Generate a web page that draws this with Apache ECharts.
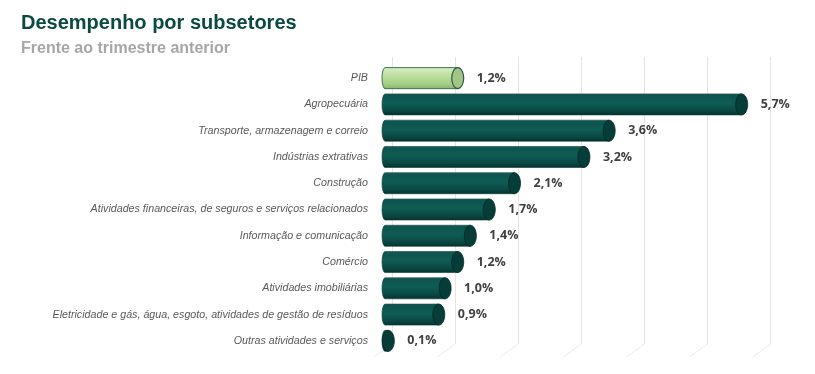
<!DOCTYPE html>
<html>
<head>
<meta charset="utf-8">
<script src="https://cdn.jsdelivr.net/npm/echarts@6/dist/echarts.min.js"></script>
<style>
html,body{margin:0;padding:0;background:#fff;}
#chart{width:815px;height:374px;}
</style>
</head>
<body>
<div id="chart"></div>
<script>
var categories = [
  'PIB',
  'Agropecuária',
  'Transporte, armazenagem e correio',
  'Indústrias extrativas',
  'Construção',
  'Atividades financeiras, de seguros e serviços relacionados',
  'Informação e comunicação',
  'Comércio',
  'Atividades imobiliárias',
  'Eletricidade e gás, água, esgoto, atividades de gestão de resíduos',
  'Outras atividades e serviços'
];
var values = [1.2, 5.7, 3.6, 3.2, 2.1, 1.7, 1.4, 1.2, 1.0, 0.9, 0.1];
var highlightIndex = 0;
var gridTicks = [0, 1, 2, 3, 4, 5, 6];

function fmt(v) { return v.toFixed(1).replace('.', ',') + '%'; }

var darkBody = new echarts.graphic.LinearGradient(0, 0, 0, 1, [
  {offset: 0, color: '#2a6e66'},
  {offset: 0.08, color: '#0d544d'},
  {offset: 0.45, color: '#0f5c55'},
  {offset: 0.8, color: '#0a4742'},
  {offset: 1, color: '#04302c'}
]);
var lightBody = new echarts.graphic.LinearGradient(0, 0, 0, 1, [
  {offset: 0, color: '#d8efc4'},
  {offset: 0.35, color: '#bfe2a3'},
  {offset: 0.8, color: '#a2cb82'},
  {offset: 1, color: '#86b068'}
]);

function renderBar(params, api) {
  var v = api.value(0), c = api.value(1);
  var p0 = api.coord([0, c]);
  var p1 = api.coord([v, c]);
  var h = api.size([0, 1])[1] * 0.8;
  var cy = p0[1], top = cy - h / 2;
  var rx = 6, lr = 3;
  var x0 = p0[0], x1 = p1[0];
  var light = (c === highlightIndex);
  var path = 'M' + (x0 + lr) + ' ' + top + ' L' + x1 + ' ' + top + ' L' + x1 + ' ' + (top + h) +
    ' L' + (x0 + lr) + ' ' + (top + h) + ' A' + lr + ' ' + (h / 2) + ' 0 0 1 ' + (x0 + lr) + ' ' + top + ' Z';
  return {
    type: 'group',
    children: [
      {
        type: 'path',
        shape: {pathData: path},
        style: {
          fill: light ? lightBody : darkBody,
          stroke: light ? '#3f7450' : '#063a35',
          lineWidth: light ? 1 : 0.6
        }
      },
      {
        type: 'ellipse',
        shape: {cx: x1, cy: cy, rx: rx, ry: h / 2},
        style: {
          fill: light ? '#a4c487' : '#073d38',
          stroke: light ? '#2c5f45' : '#032925',
          lineWidth: light ? 1.2 : 0.8
        }
      },
      {
        type: 'text',
        x: x1 + rx + 13,
        y: cy,
        style: {
          text: fmt(v),
          fill: '#404040',
          font: 'bold 12.5px "Open Sans", sans-serif',
          align: 'left',
          verticalAlign: 'middle'
        }
      }
    ]
  };
}

function renderFloor(params, api) {
  var t = api.value(0);
  var p = api.coord([t, 0]);
  return {
    type: 'line',
    shape: {x1: p[0], y1: p[1], x2: p[0] - 18, y2: p[1] + 13},
    style: {stroke: '#ebebeb', lineWidth: 1}
  };
}

var chart = echarts.init(document.getElementById('chart'));
chart.setOption({
  animation: false,
  backgroundColor: '#ffffff',
  title: {
    text: 'Desempenho por subsetores',
    subtext: 'Frente ao trimestre anterior',
    left: 16,
    top: 8,
    itemGap: 8,
    textStyle: {fontFamily: 'Liberation Sans', fontWeight: 'bold', fontSize: 20, color: '#0b4a42'},
    subtextStyle: {fontFamily: 'Liberation Sans', fontWeight: 'bold', fontSize: 16, color: '#a6a6a6'}
  },
  grid: [
    {left: 382, right: 54.4, top: 65, bottom: 20, containLabel: false},
    {left: 392, right: 44.4, top: 57, bottom: 30, containLabel: false}
  ],
  xAxis: [
    {type: 'value', gridIndex: 0, min: 0, max: 6, interval: 1, show: false},
    {type: 'value', gridIndex: 1, min: 0, max: 6, interval: 1,
      axisLine: {show: false}, axisTick: {show: false}, axisLabel: {show: false},
      splitLine: {show: true, lineStyle: {color: '#e4e4e4', width: 1}}}
  ],
  yAxis: [
    {type: 'category', gridIndex: 0, data: categories, inverse: true,
      axisLine: {show: false}, axisTick: {show: false}, splitLine: {show: false},
      axisLabel: {margin: 14, fontFamily: 'Liberation Sans', fontStyle: 'italic', fontSize: 10.7, color: '#595959'}},
    {type: 'value', gridIndex: 1, min: 0, max: 1, show: false, splitLine: {show: false}}
  ],
  series: [
    {
      type: 'custom', xAxisIndex: 1, yAxisIndex: 1, z: 1,
      renderItem: renderFloor,
      data: gridTicks.map(function (t) { return [t]; }),
      silent: true
    },
    {
      type: 'custom', xAxisIndex: 0, yAxisIndex: 0, z: 5,
      renderItem: renderBar,
      encode: {x: 0, y: 1},
      data: values.map(function (v, i) { return [v, i]; })
    }
  ]
});
</script>
</body>
</html>
